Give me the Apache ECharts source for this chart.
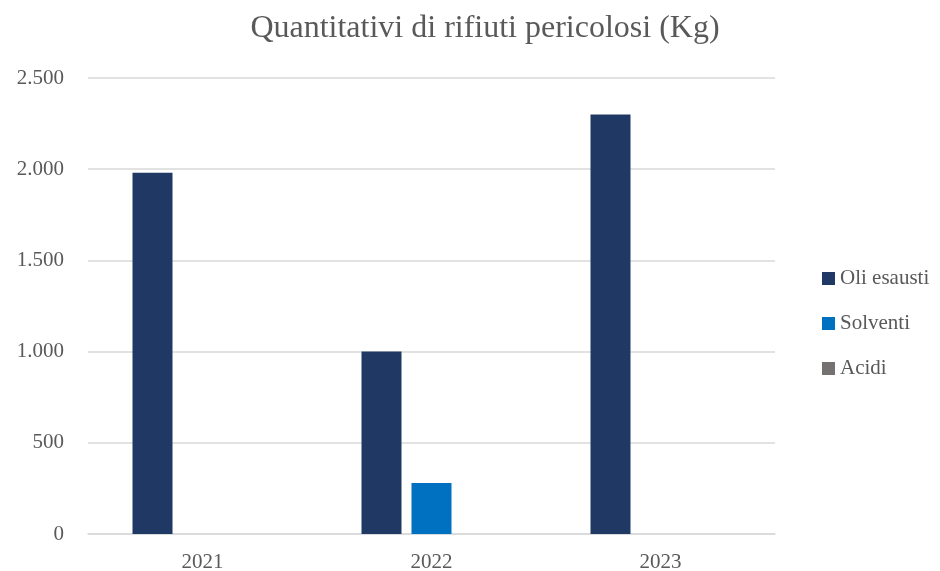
<!DOCTYPE html>
<html>
<head>
<meta charset="utf-8">
<script src="https://cdn.jsdelivr.net/npm/echarts@6/dist/echarts.min.js"></script>
<style>
  html, body { margin: 0; padding: 0; background: #fff; }
  #chart { width: 940px; height: 571px; }
</style>
</head>
<body>
<div id="chart"></div>
<script>
const years = ["2021", "2022", "2023"];
const oliEsausti = [1980, 1000, 2300];
const solventi = [0, 280, 0];
const acidi = [0, 0, 0];

const font = "Liberation Serif";
const textColor = "#595959";

function fmt(v) {
    return String(v).replace(/\B(?=(\d{3})+(?!\d))/g, ".");
}

let myChart = echarts.init(document.querySelector("#chart"));
option = {
    animation: false,
    title: {
        text: "Quantitativi di rifiuti pericolosi (Kg)",
        left: 480,
        textAlign: "center",
        top: 8,
        textStyle: {
            fontFamily: font,
            fontSize: 32,
            fontWeight: "normal",
            color: textColor,
        },
    },
    legend: {
        orient: "vertical",
        left: 817,
        top: 263,
        itemWidth: 13,
        itemHeight: 13,
        itemGap: 24,
        icon: "rect",
        textStyle: {
            fontFamily: font,
            fontSize: 21,
            color: textColor,
        },
    },
    grid: {
        left: 88,
        right: 165,
        top: 78,
        bottom: 37,
        outerBoundsMode: "none",
    },
    xAxis: {
        type: "category",
        data: years,
        axisTick: { show: false },
        axisLine: { lineStyle: { color: "#d9d9d9", width: 1.5 } },
        axisLabel: {
            fontFamily: font,
            fontSize: 21,
            color: textColor,
            margin: 18,
        },
    },
    yAxis: {
        type: "value",
        min: 0,
        max: 2500,
        interval: 500,
        axisLabel: {
            fontFamily: font,
            fontSize: 21,
            color: textColor,
            margin: 24,
            formatter: fmt,
        },
        splitLine: { lineStyle: { color: "#d9d9d9", width: 1.5 } },
    },
    series: [
        {
            name: "Oli esausti",
            type: "bar",
            data: oliEsausti,
            barWidth: 40,
            barGap: "25%",
            itemStyle: { color: "#1f3864" },
        },
        {
            name: "Solventi",
            type: "bar",
            data: solventi,
            barWidth: 40,
            itemStyle: { color: "#0070c0" },
        },
        {
            name: "Acidi",
            type: "bar",
            data: acidi,
            barWidth: 40,
            itemStyle: { color: "#767171" },
        },
    ],
};
myChart.setOption(option);
window.addEventListener("resize", function () {
    myChart.resize();
});
</script>
</body>
</html>
